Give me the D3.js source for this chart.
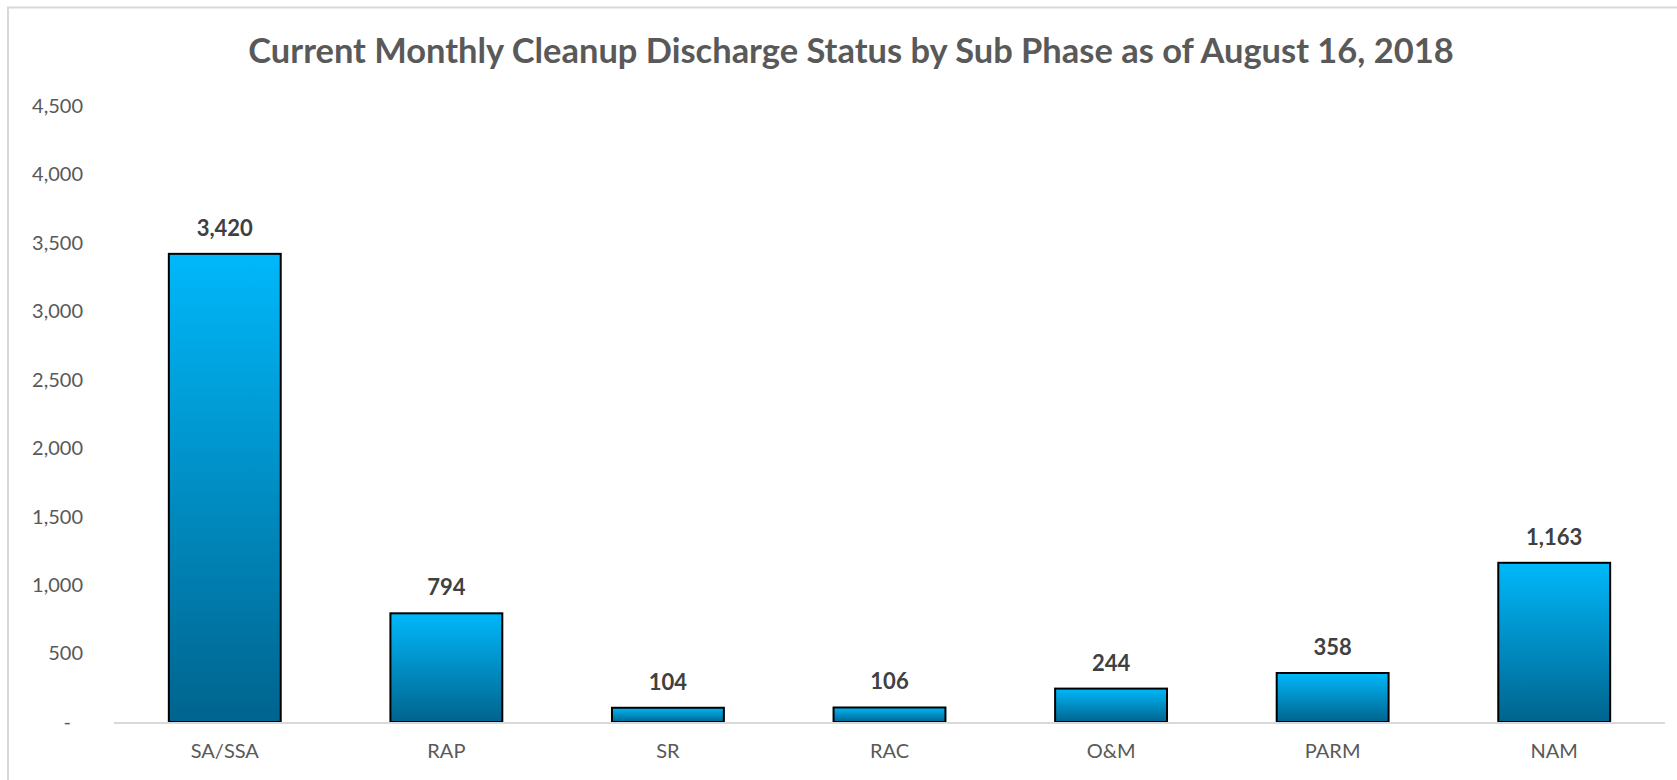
<!DOCTYPE html>
<html>
<head>
<meta charset="utf-8">
<script src="https://cdn.jsdelivr.net/npm/d3@7"></script>
<style>
    body { margin: 0; background: #fff; }
    svg { display: block; font-family: Lato, "Open Sans", sans-serif; }
</style>
</head>
<body>
<svg id="chart" width="1677" height="780"></svg>
<script>
// chart data
const title = "Current Monthly Cleanup Discharge Status by Sub Phase as of August 16, 2018";
const phases = ["SA/SSA", "RAP", "SR", "RAC", "O&M", "PARM", "NAM"];
const counts = [3420, 794, 104, 106, 244, 358, 1163];
const yTicks = [0, 500, 1000, 1500, 2000, 2500, 3000, 3500, 4000, 4500];

const width = 1677, height = 780;
const margin = { top: 106, right: 12, bottom: 58, left: 114 };

const svg = d3.select("#chart");

// light frame, the right and bottom edges fall outside the picture
svg.append("path")
    .attr("d", `M8,${height + 5}V7.5H${width + 5}`)
    .attr("fill", "none")
    .attr("stroke", "#d9d9d9")
    .attr("stroke-width", 2);

const defs = svg.append("defs");
const grad = defs.append("linearGradient")
    .attr("id", "barFill")
    .attr("x1", 0).attr("y1", 0).attr("x2", 0).attr("y2", 1);
grad.append("stop").attr("offset", "0%").attr("stop-color", "#00b8fa");
grad.append("stop").attr("offset", "100%").attr("stop-color", "#00648e");

// bars sit in the middle of equal slots across the plot
const x = d3.scaleBand()
    .domain(phases)
    .range([margin.left, width - margin.right])
    .paddingInner(0.495)
    .paddingOuter(0.2475);

const y = d3.scaleLinear()
    .domain([0, 4500])
    .range([height - margin.bottom, margin.top]);

// title, sized so it spans the same width as the original
const titleText = svg.append("text")
    .attr("x", 851)
    .attr("y", 63)
    .attr("text-anchor", "middle")
    .attr("fill", "#595959")
    .attr("font-weight", "bold")
    .attr("font-size", 36)
    .text(title);
const tw = titleText.node().getComputedTextLength();
titleText.attr("font-size", 36 * 1206 / tw);

// y axis labels only, no line or ticks
const yAxis = svg.append("g")
    .attr("transform", `translate(${margin.left - 28},0)`)
    .call(d3.axisLeft(y)
        .tickValues(yTicks)
        .tickSize(0)
        .tickFormat(d => d === 0 ? "-" : d3.format(",")(d)));
yAxis.select(".domain").remove();
yAxis.selectAll("text")
    .attr("fill", "#595959")
    .attr("font-size", 20)
    .attr("font-family", "Lato, 'Open Sans', sans-serif")
    .attr("dx", 0);
yAxis.selectAll("text").filter(d => d === 0).attr("dx", -12);

// bars
svg.append("g")
    .selectAll("rect")
    .data(phases)
    .join("rect")
    .attr("x", d => x(d))
    .attr("y", (d, i) => y(counts[i]))
    .attr("width", x.bandwidth())
    .attr("height", (d, i) => y(0) - y(counts[i]))
    .attr("fill", "url(#barFill)")
    .attr("stroke", "#000")
    .attr("stroke-width", 2);

// baseline
svg.append("line")
    .attr("x1", margin.left)
    .attr("x2", width - margin.right)
    .attr("y1", y(0) + 1)
    .attr("y2", y(0) + 1)
    .attr("stroke", "#d9d9d9")
    .attr("stroke-width", 2);

// value labels
svg.append("g")
    .selectAll("text")
    .data(phases)
    .join("text")
    .attr("x", d => x(d) + x.bandwidth() / 2)
    .attr("y", (d, i) => y(counts[i]) - 18)
    .attr("text-anchor", "middle")
    .attr("fill", "#404040")
    .attr("font-weight", "bold")
    .attr("font-size", 22)
    .text((d, i) => d3.format(",")(counts[i]));

// x axis labels
const xAxis = svg.append("g")
    .attr("transform", `translate(0,${y(0)})`)
    .call(d3.axisBottom(x).tickSize(0).tickPadding(22));
xAxis.select(".domain").remove();
xAxis.selectAll("text")
    .attr("fill", "#595959")
    .attr("font-size", 20)
    .attr("font-family", "Lato, 'Open Sans', sans-serif");
</script>
</body>
</html>
